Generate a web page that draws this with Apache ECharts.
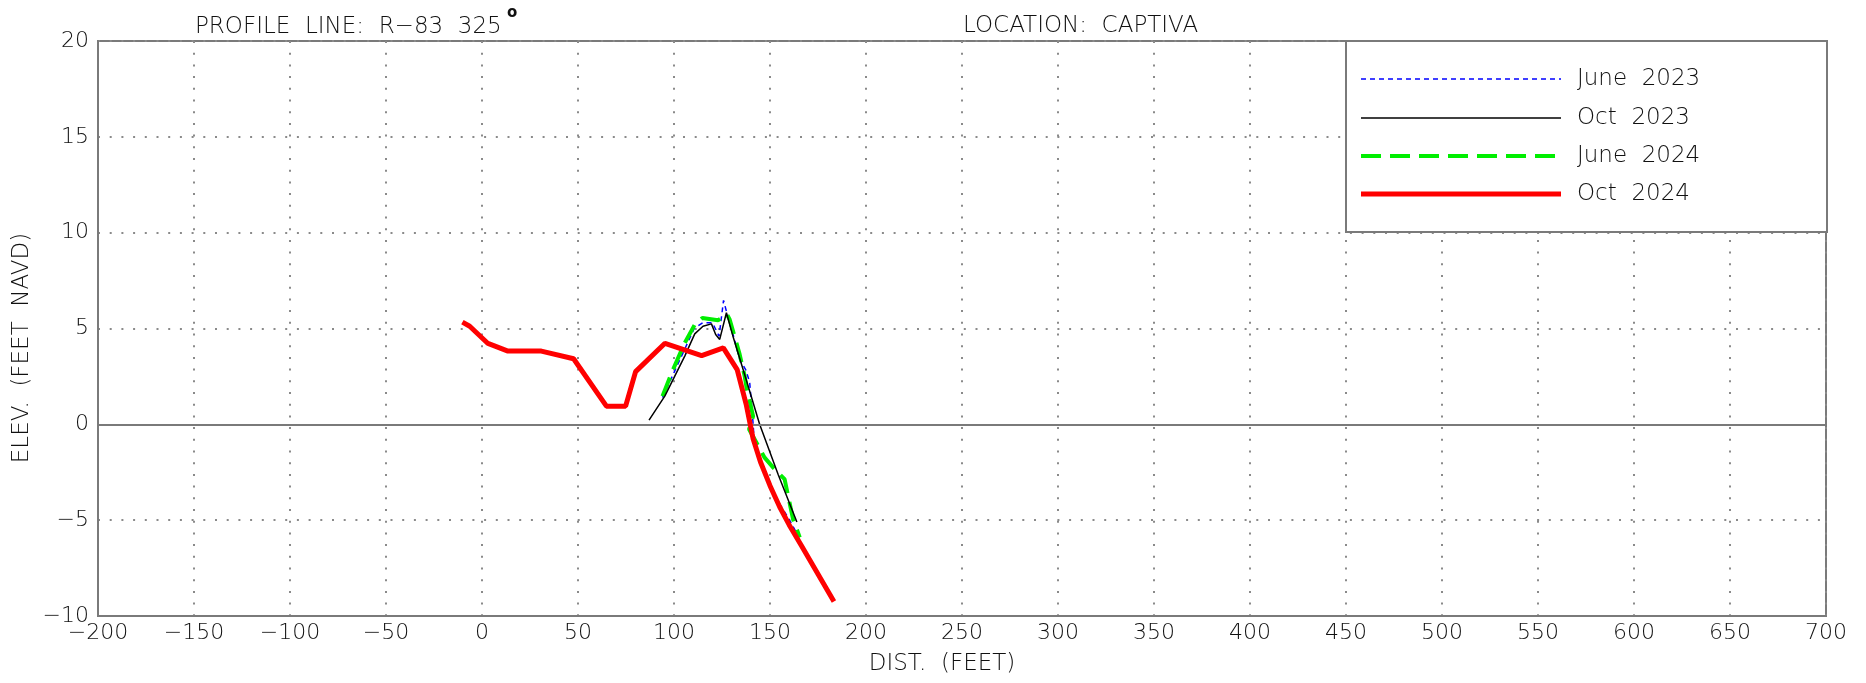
<!DOCTYPE html>
<html>
<head>
<meta charset="utf-8">
<title>R-83 Captiva beach profile</title>
<script src="https://cdn.jsdelivr.net/npm/echarts@6/dist/echarts.min.js"></script>
<style>
  html, body { margin: 0; padding: 0; background: #fff; }
  #chart { width: 1866px; height: 683px; }
</style>
</head>
<body>
<div id="chart"></div>
<script>
// Survey profiles along R-83 (distance in feet, elevation in feet NAVD)
const june2023Dist = [94, 100, 110.5, 115, 120, 123.5, 125.8, 127.3, 131, 134.2, 137.3, 139.4, 141, 142, 145.5, 152.4, 159.4, 163.7, 167];
const june2023Elev = [1.4, 2.7, 5.0, 5.3, 5.3, 4.6, 6.47, 5.9, 4.6, 3.4, 2.86, 2.2, 0.3, -1.13, -2.17, -3.73, -4.86, -5.64, -6.4];

const oct2023Dist = [87, 95.2, 105.6, 110.8, 115.1, 119.5, 121.7, 123.8, 127.3, 130.7, 137.7, 144.6, 154.2, 164];
const oct2023Elev = [0.22, 1.47, 3.56, 4.72, 5.12, 5.24, 4.69, 4.43, 5.82, 4.6, 2.3, 0.0, -2.6, -5.1];

const june2024Dist = [94, 99.5, 105.6, 110.8, 114.8, 122.9, 127.6, 129, 132.5, 134.2, 136.8, 137.8, 141.2, 139.1, 142.9, 147.2, 152.4, 157.6, 162, 165.5];
const june2024Elev = [1.47, 2.86, 4.25, 5.2, 5.55, 5.43, 5.73, 5.47, 4.25, 3.65, 2.52, 1.9, 0.43, -0.26, -0.95, -1.74, -2.34, -2.86, -4.95, -5.9];

const oct2024Dist = [-10.2, -6.4, 3.1, 13.5, 30.9, 47.7, 64.8, 74.8, 80, 95.3, 114.4, 125.7, 132.9, 137.7, 141.2, 145, 150, 155, 160, 166.4, 183.3];
const oct2024Elev = [5.33, 5.12, 4.22, 3.82, 3.82, 3.42, 0.95, 0.95, 2.75, 4.23, 3.59, 3.99, 2.85, 1.0, -0.75, -1.95, -3.2, -4.3, -5.25, -6.34, -9.24];

const seriesNames = ['June  2023', 'Oct  2023', 'June  2024', 'Oct  2024'];
const titleLeft = 'PROFILE  LINE:  R\u221283  325';
const titleRight = 'LOCATION:  CAPTIVA';
const xName = 'DIST.  (FEET)';
const yName = 'ELEV.  (FEET  NAVD)';

const FONT = '"DejaVu Sans", Roboto, sans-serif';
const TEXT = '#111';
const FRAME = '#7a7a7a';

function pairs(xs, ys) { return xs.map((x, i) => [x, ys[i]]); }
function fmt(v) { return v < 0 ? '\u2212' + Math.abs(v) : String(v); }

// Line styles for the four surveys
const styles = [
  { color: '#0000ff', width: 1.5, type: [5, 4] },
  { color: '#000000', width: 1.5, type: 'solid' },
  { color: '#00ee00', width: 4, type: [20, 9] },
  { color: '#ff0000', width: 5, type: 'solid' }
];

const dotted = { color: '#8a8a8a', width: 2, type: [2, 9.7] };

const chart = echarts.init(document.getElementById('chart'), null, { renderer: 'canvas' });

const legendX = 1346, legendY = 41, legendW = 481, legendH = 191;
const legendRows = [79, 118, 156, 194];
const legendGraphics = [
  {
    type: 'rect', z: 100,
    shape: { x: legendX, y: legendY, width: legendW, height: legendH },
    style: { fill: '#fff', stroke: FRAME, lineWidth: 2 }
  }
];
seriesNames.forEach((name, i) => {
  legendGraphics.push({
    type: 'line', z: 101,
    shape: { x1: 1361, y1: legendRows[i], x2: 1561, y2: legendRows[i] },
    style: {
      stroke: styles[i].color, lineWidth: styles[i].width,
      lineDash: Array.isArray(styles[i].type) ? styles[i].type : null
    }
  });
  legendGraphics.push({
    type: 'text', z: 101, x: 1577, y: legendRows[i],
    style: { text: name, fill: TEXT, font: '200 23px ' + FONT, textVerticalAlign: 'middle' }
  });
});

const option = {
  backgroundColor: '#fff',
  animation: false,
  grid: {
    left: 98, top: 41, right: 40, bottom: 67,
    show: true, borderColor: FRAME, borderWidth: 2, backgroundColor: 'transparent'
  },
  xAxis: {
    type: 'value', min: -200, max: 700, interval: 50,
    axisLine: { show: true, onZero: false, lineStyle: { color: FRAME, width: 2 } },
    axisTick: { show: false },
    splitLine: { show: true, lineStyle: dotted },
    axisLabel: {
      color: TEXT, fontFamily: FONT, fontWeight: 200, fontSize: 22, margin: 6,
      formatter: fmt, showMinLabel: true, showMaxLabel: true
    }
  },
  yAxis: {
    type: 'value', min: -10, max: 20, interval: 5,
    axisLine: { show: true, onZero: false, lineStyle: { color: FRAME, width: 2 } },
    axisTick: { show: false },
    splitLine: { show: true, lineStyle: dotted },
    axisLabel: {
      color: TEXT, fontFamily: FONT, fontWeight: 200, fontSize: 22, margin: 9,
      padding: [0, 0, 14, 0], formatter: fmt
    }
  },
  series: [
    {
      name: seriesNames[0], type: 'line', z: 2,
      data: pairs(june2023Dist, june2023Elev),
      symbol: 'none', lineStyle: styles[0],
      markLine: {
        silent: true, symbol: 'none', label: { show: false },
        lineStyle: { color: FRAME, width: 2, type: 'solid' },
        data: [{ yAxis: 0 }]
      }
    },
    {
      name: seriesNames[2], type: 'line', z: 3,
      data: pairs(june2024Dist, june2024Elev),
      symbol: 'none', lineStyle: styles[2]
    },
    {
      name: seriesNames[1], type: 'line', z: 4,
      data: pairs(oct2023Dist, oct2023Elev),
      symbol: 'none', lineStyle: styles[1]
    },
    {
      name: seriesNames[3], type: 'line', z: 5,
      data: pairs(oct2024Dist, oct2024Elev),
      symbol: 'none', lineStyle: styles[3]
    }
  ],
  graphic: [
    {
      type: 'text', x: 195, y: 27,
      style: { text: titleLeft, fill: TEXT, font: '200 23px ' + FONT, textVerticalAlign: 'middle' }
    },
    {
      type: 'text', x: 507, y: 13,
      style: { text: 'o', fill: '#111', font: 'bold 15px ' + FONT, textVerticalAlign: 'middle' }
    },
    {
      type: 'text', x: 963, y: 26,
      style: { text: titleRight, fill: TEXT, font: '200 23px ' + FONT, textVerticalAlign: 'middle' }
    },
    {
      type: 'text', x: 942, y: 664,
      style: { text: xName, fill: TEXT, font: '200 23px ' + FONT, textAlign: 'center', textVerticalAlign: 'middle' }
    },
    {
      type: 'text', x: 22, y: 348, rotation: Math.PI / 2,
      style: { text: yName, fill: TEXT, font: '200 23px ' + FONT, textAlign: 'center', textVerticalAlign: 'middle' }
    }
  ].concat(legendGraphics)
};

chart.setOption(option);
</script>
</body>
</html>
